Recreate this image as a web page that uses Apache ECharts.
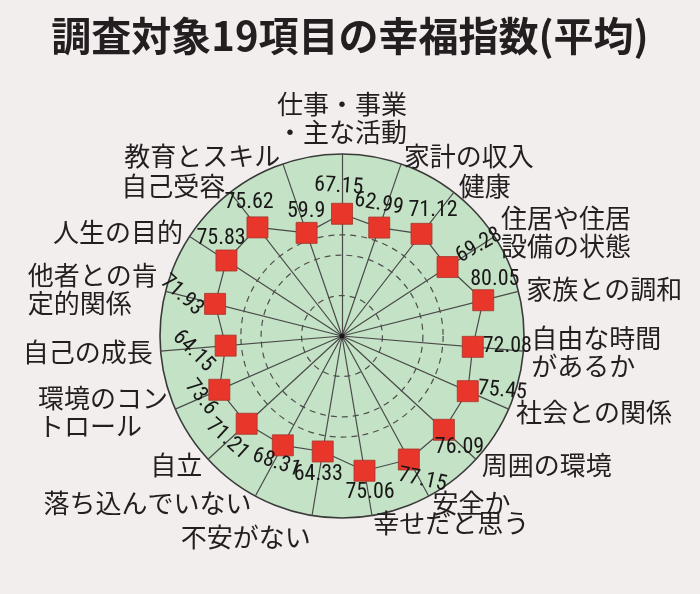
<!DOCTYPE html>
<html>
<head>
<meta charset="utf-8">
<script src="https://cdn.jsdelivr.net/npm/echarts@6/dist/echarts.min.js"></script>
<style>
  html, body { margin: 0; padding: 0; background: #f1eeed; }
  #chart { width: 700px; height: 594px; }
</style>
</head>
<body>
<div id="chart"></div>
<script>
// 項目名 (時計回り, 上から)
var categories = [
    '仕事・事業\n・主な活動', '家計の収入', '健康', '住居や住居\n設備の状態', '家族との調和',
    '自由な時間\nがあるか', '社会との関係', '周囲の環境', '安全か', '幸せだと思う',
    '\n不安がない', '落ち込んでいない', '自立', '環境のコン\nトロール　', '自己の成長',
    '他者との肯\n定的関係　', '人生の目的', '自己受容', '教育とスキル'
];
// 幸福指数(平均)
var scores = [
    67.15, 62.99, 71.12, 69.28, 80.05,
    72.08, 75.45, 76.09, 77.15, 75.06,
    64.33, 68.31, 71.21, 73.6, 64.15,
    71.93, 75.83, 75.62, 59.9
];
var scoreMax = 100;

// 数値ラベルの置き場所 [dx, dy, 回転]
var labelLayout = [
    [-3, -27, -4], [0, -23, -10], [12, -23, 0], [32, -21, 30], [12, -20, 0],
    [35, 0, 0], [35, 0, -5], [16, 18, 0], [14, 21, -12], [6, 22, 0],
    [-4, 23, 0], [-6, 18, -19], [-19, 16, -42], [-18, 8, -52], [-32, 6, -45],
    [-33, -8, -42], [-5, -22, 0], [-8, -24, 0], [0, -21, 0]
];

var cx = 342, cy = 336, R = 182;
var markSize = 21;
var numFont = '"Roboto Condensed", "DejaVu Sans Condensed", sans-serif';
var jpFont = '"Noto Sans CJK JP", sans-serif';

// radar は反時計回りなので並べ替え
var n = categories.length;
var order = categories.map(function (_, i) { return (n - i) % n; });

// 破線の円 (9分割のうち 2,4,5 番目だけ)
var ringColors = [];
for (var k = 0; k <= 9; k++) {
    ringColors.push(k === 2 || k === 4 || k === 5 ? '#4f4f4f' : 'rgba(0,0,0,0)');
}

var chart = echarts.init(document.getElementById('chart'));

var option = {
    backgroundColor: '#f1eeed',
    title: {
        text: '調査対象19項目の幸福指数(平均)',
        left: 'center',
        top: 11,
        textStyle: {
            fontFamily: jpFont,
            fontSize: 40,
            fontWeight: 'bold',
            color: '#231f20'
        }
    },
    radar: {
        center: [cx, cy],
        radius: R,
        shape: 'circle',
        startAngle: 90,
        splitNumber: 9,
        indicator: order.map(function (i) {
            return { name: categories[i], min: 0, max: scoreMax };
        }),
        axisName: {
            color: '#231f20',
            fontFamily: jpFont,
            fontSize: 26,
            lineHeight: 28
        },
        nameGap: 8,
        axisLine: { lineStyle: { color: '#4a4a4a', width: 1.2 } },
        splitLine: {
            show: true,
            lineStyle: { color: ringColors, width: 1.2, type: [6, 5] }
        },
        splitArea: { show: true, areaStyle: { color: ['#c4e2c5'] } }
    },
    polar: {
        center: [cx, cy],
        radius: R
    },
    angleAxis: {
        type: 'value',
        min: 0,
        max: n,
        startAngle: 90,
        clockwise: true,
        axisLine: { show: true, lineStyle: { color: '#3a3a3a', width: 1.6 } },
        axisTick: { show: false },
        axisLabel: { show: false },
        splitLine: { show: false }
    },
    radiusAxis: {
        min: 0,
        max: scoreMax,
        axisLine: { show: false },
        axisTick: { show: false },
        axisLabel: { show: false },
        splitLine: { show: false }
    },
    graphic: [{
        type: 'circle',
        shape: { cx: cx, cy: cy, r: 2.5 },
        style: { fill: '#1a1718' },
        z: 5
    }],
    series: [
        {
            type: 'line',
            coordinateSystem: 'polar',
            data: scores.map(function (v, i) { return [v, i]; }).concat([[scores[0], n]]),
            symbol: 'none',
            lineStyle: { color: '#4a4a4a', width: 1.2 },
            silent: true,
            z: 3
        },
        {
            type: 'scatter',
            coordinateSystem: 'polar',
            symbol: 'rect',
            symbolSize: markSize,
            itemStyle: { color: '#e8362b', borderColor: '#a8342a', borderWidth: 0.8, opacity: 1 },
            label: {
                show: true,
                color: '#1a1718',
                fontFamily: numFont,
                fontSize: 22,
                align: 'center',
                verticalAlign: 'middle',
                formatter: function (p) { return String(p.value[0]); }
            },
            data: scores.map(function (v, i) {
                var lay = labelLayout[i];
                return {
                    value: [v, i],
                    label: {
                        position: [markSize / 2 + lay[0], markSize / 2 + lay[1]],
                        rotate: lay[2]
                    }
                };
            }),
            z: 4
        }
    ]
};

chart.setOption(option);
</script>
</body>
</html>
